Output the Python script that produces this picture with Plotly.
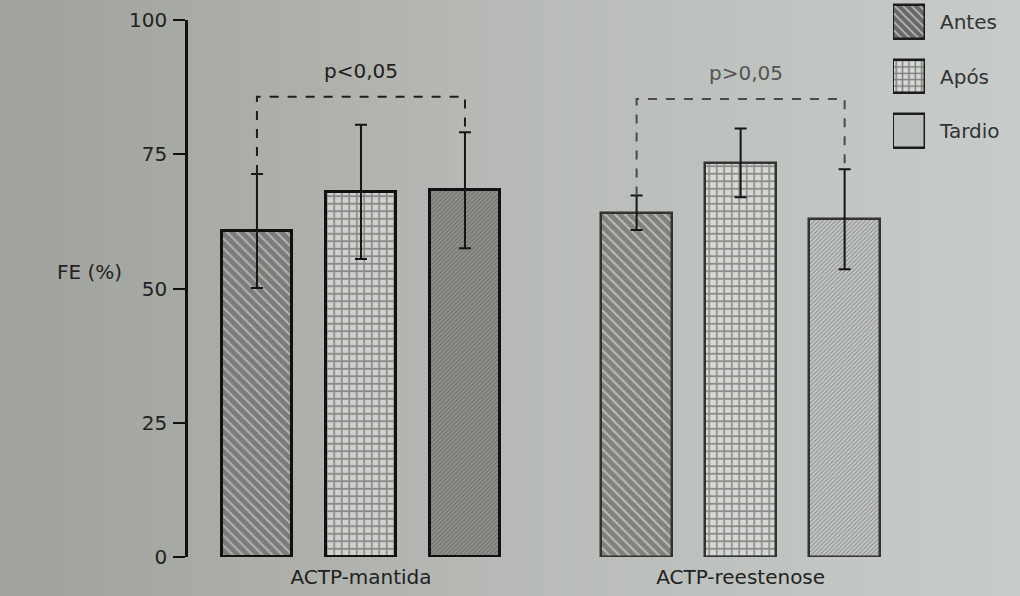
import base64
import struct
import zlib

import plotly.graph_objects as go

# FE (%) by group and moment: mean and standard deviation
groups = ["ACTP-mantida", "ACTP-reestenose"]
moments = ["Antes", "Após", "Tardio"]
means = {
    "Antes": [60.7, 64.1],
    "Após": [68.0, 73.4],
    "Tardio": [68.3, 62.9],
}
sds = {
    "Antes": [10.6, 3.2],
    "Após": [12.5, 6.4],
    "Tardio": [10.8, 9.3],
}
p_labels = ["p<0,05", "p>0,05"]
y_ticks = [0, 25, 50, 75, 100]

# horizontal layout: bar slots inside a group, group offset
group_pos = [0.0, 3.65]
slot = {"Antes": 0.0, "Após": 1.0, "Tardio": 2.0}

FONT = "DejaVu Sans"
BG = "#b3b5b1"

styles = {
    "Antes": dict(shape="\\", size=7, solidity=0.72,
                  fg=["#121212", "#201f1a"], bg=["#b2b3af", "#bcbcb4"]),
    "Após": dict(shape="+", size=7.5, solidity=0.4,
                 fg=["#141414", "#2e2e2a"], bg=["#d0d1cd", "#d6d8d4"]),
    "Tardio": dict(shape="/", size=3, solidity=0.3,
                   fg=["#6a6a66", "#a2a6a4"], bg=["#8f908c", "#c3c7c5"]),
}
key_fg = {"Antes": "#141414", "Após": "#1c1c1c", "Tardio": "#9a9e9c"}
key_bg = {"Antes": "#bcbdb9", "Após": "#d6d8d4", "Tardio": "#bfc3c1"}
line_colors = ["#111111", "#33332f"]
line_widths = [3, 2.5]


def gradient_png(stops, width=256, height=4):
    """Small horizontal gradient PNG as a data URI (paper-sheet shading)."""
    rows = []
    for _ in range(height):
        row = bytearray([0])
        for i in range(width):
            t = i / (width - 1)
            for k in range(len(stops) - 1):
                t0, c0 = stops[k]
                t1, c1 = stops[k + 1]
                if t0 <= t <= t1:
                    f = (t - t0) / (t1 - t0) if t1 > t0 else 0
                    row += bytes(int(c0[j] + (c1[j] - c0[j]) * f) for j in range(3))
                    break
        rows.append(bytes(row))
    raw = b"".join(rows)

    def chunk(tag, data):
        c = struct.pack(">I", len(data)) + tag + data
        return c + struct.pack(">I", zlib.crc32(tag + data) & 0xFFFFFFFF)

    png = b"\x89PNG\r\n\x1a\n"
    png += chunk(b"IHDR", struct.pack(">IIBBBBB", width, height, 8, 2, 0, 0, 0))
    png += chunk(b"IDAT", zlib.compress(raw))
    png += chunk(b"IEND", b"")
    return "data:image/png;base64," + base64.b64encode(png).decode()


shade = gradient_png([
    (0.0, (160, 162, 157)),
    (0.25, (172, 174, 169)),
    (0.5, (184, 187, 183)),
    (0.75, (192, 196, 193)),
    (1.0, (200, 205, 203)),
])

fig = go.Figure()

for m in moments:
    st = styles[m]
    xs = [g + slot[m] for g in group_pos]
    fig.add_trace(go.Bar(
        x=xs, y=means[m], width=0.68, name=m, showlegend=False,
        marker=dict(
            color=st["bg"],
            line=dict(color=line_colors, width=line_widths),
            pattern=dict(shape=st["shape"], size=st["size"], solidity=st["solidity"],
                         fgcolor=st["fg"], bgcolor=st["bg"], fillmode="overlay"),
        ),
        error_y=dict(type="data", array=sds[m], visible=True,
                     color="#151515", thickness=2, width=6),
        xaxis="x", yaxis="y",
    ))

# key swatches drawn as patterned bars on their own small axes
for m in moments:
    st = styles[m]
    fig.add_trace(go.Bar(
        x=[1], y=[m], orientation="h", width=0.62, showlegend=False,
        marker=dict(
            color=key_bg[m],
            line=dict(color="#1c1c1c", width=2.5),
            pattern=dict(shape=st["shape"], size=st["size"] * 0.85, solidity=st["solidity"],
                         fgcolor=key_fg[m], bgcolor=key_bg[m], fillmode="overlay"),
        ),
        xaxis="x2", yaxis="y2", hoverinfo="skip",
    ))

W, H = 1020, 596
L, R, T, B = 188, 10, 0, 39
pw, ph = W - L - R, H - T - B


def px_x(p):
    return (p - L) / pw


def px_y(p):
    return (H - B - p) / ph


# dashed comparison brackets from Antes to Tardio, above the error bars
bracket_y = [85.7, 85.3]
bracket_colors = ["#1e1e1e", "#4a4a48"]
for i, g in enumerate(group_pos):
    x0 = g + slot["Antes"]
    x1 = g + slot["Tardio"]
    y0 = means["Antes"][i] + sds["Antes"][i]
    y1 = means["Tardio"][i] + sds["Tardio"][i]
    yb = bracket_y[i]
    fig.add_shape(type="path",
                  path=f"M {x0},{y0} L {x0},{yb} L {x1},{yb} L {x1},{y1}",
                  xref="x", yref="y",
                  line=dict(color=bracket_colors[i], width=2, dash="dash"))
    fig.add_annotation(x=g + slot["Após"] + (0.05 if i else 0), y=yb + 4.8,
                       text=p_labels[i], showarrow=False, xref="x", yref="y",
                       font=dict(family=FONT, size=20,
                                 color="#1e1e1e" if i == 0 else "#555553"))

fig.add_annotation(x=px_x(55), y=px_y(272), xref="paper", yref="paper", text="FE (%)",
                   showarrow=False, font=dict(family=FONT, size=20, color="#222222"))

fig.add_layout_image(dict(
    source=shade, xref="paper", yref="paper",
    x=px_x(0), y=px_y(0), sizex=W / pw, sizey=H / ph,
    xanchor="left", yanchor="top", sizing="stretch", layer="below",
))

fig.update_layout(
    width=W, height=H,
    margin=dict(l=L, r=R, t=T, b=B, autoexpand=False),
    paper_bgcolor=BG, plot_bgcolor="rgba(0,0,0,0)",
    barmode="overlay",
    bargap=0,
    font=dict(family=FONT, color="#222222", size=20),
    xaxis=dict(domain=[0, px_x(888)], range=[-0.663, 6.067], automargin=False,
               tickvals=[g + slot["Após"] for g in group_pos],
               ticktext=groups, ticks="", showline=False, showgrid=False, zeroline=False,
               ticklabelstandoff=6, tickfont=dict(size=20, color="#222222")),
    yaxis=dict(domain=[0, px_y(20)], range=[0, 100], tickvals=y_ticks, automargin=False,
               showline=True, linecolor="#111111", linewidth=2.5,
               ticks="outside", ticklen=12, tickwidth=2, tickcolor="#111111",
               showgrid=False, zeroline=False, ticklabelstandoff=2,
               tickfont=dict(size=20, color="#222222")),
    xaxis2=dict(domain=[px_x(893), px_x(925)], range=[0, 1], anchor="y2",
                visible=False, fixedrange=True, automargin=False),
    yaxis2=dict(domain=[px_y(158.5), 1], range=[-0.504, 2.404], anchor="x2", automargin=False,
                categoryorder="array", categoryarray=["Tardio", "Após", "Antes"],
                side="right", ticks="", showline=False, showgrid=False, zeroline=False,
                ticklabelstandoff=14, tickfont=dict(size=20, color="#333333")),
)

fig.write_html("out.html")
